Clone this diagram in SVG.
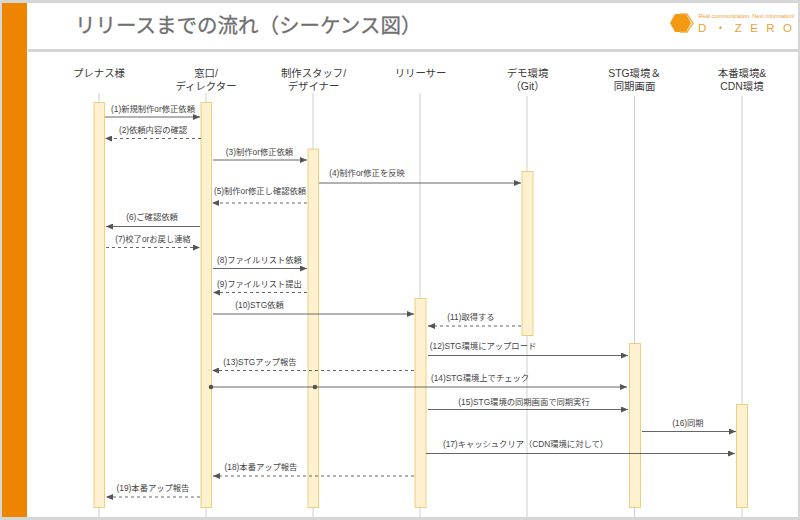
<svg xmlns="http://www.w3.org/2000/svg" width="800" height="520" viewBox="0 0 800 520">
<style>
text{font-family:"Liberation Sans","Noto Sans CJK JP",sans-serif;fill:#444}
.h{font-size:10.4px;text-anchor:middle;fill:#3a3a3a}
.m{font-size:8.3px;text-anchor:middle;fill:#444}
.life{stroke:#cfcfcf;stroke-width:1;fill:none}
.act{fill:#fdf1cf;stroke:#ecd080;stroke-width:1}
.s,.d{stroke:#666;stroke-width:1;fill:none}
.d{stroke-dasharray:3 3}
</style>
<defs>
<marker id="a" markerWidth="7" markerHeight="6" refX="7" refY="3" orient="auto" markerUnits="userSpaceOnUse"><path d="M0 0L7 3L0 6z" fill="#555"/></marker>
</defs>
<rect width="800" height="520" fill="#d6d6d6"/>
<rect x="2" y="3" width="796" height="514" fill="#fff"/>
<rect x="2" y="3" width="25" height="514" fill="#ee8500"/>
<rect x="28" y="49" width="770" height="3" fill="#d4d4d4"/>
<text x="75" y="33" font-size="20.5" stroke="#707070" stroke-width="0.3" style="fill:#707070">リリースまでの流れ（シーケンス図）</text>
<g id="logo">
<path d="M670 23l5-9h11l5 9-5 9h-11z" fill="#f39a12"/>
<path d="M680 14h7l6 9-6 9h-7" fill="none" stroke="#f3b04a" stroke-width="1.5"/>
<text x="698.500" y="18" font-size="5.600" style="fill:#f0a030">Real communication. Next information!</text>
<text x="698" y="32" font-size="11.500" textLength="94" style="fill:#f0a030">D・ZERO</text>
</g>
<g id="lifelines">
<path class="life" d="M99 93V517M206 93V517M313 93V517M420 93V517M527 96V517M634.500 96V517M742 96V517"/>
</g>
<g id="n1"><text class="h" x="99" y="77">プレナス様</text><rect class="act" x="94" y="102.500" width="10.500" height="405"/></g>
<g id="n2"><text class="h" x="206" y="77">窓口/</text><text class="h" x="206" y="89.500">ディレクター</text><rect class="act" x="201" y="102.500" width="10.500" height="405"/></g>
<g id="n3"><text class="h" x="313.500" y="77">制作スタッフ/</text><text class="h" x="313.500" y="89.500">デザイナー</text><rect class="act" x="308" y="149" width="10.500" height="358.500"/></g>
<g id="n4"><text class="h" x="420.500" y="77">リリーサー</text><rect class="act" x="415" y="298.500" width="11" height="209"/></g>
<g id="n5"><text class="h" x="527.500" y="77">デモ環境</text><text class="h" x="527.500" y="89.500">（Git）</text><rect class="act" x="522" y="171.500" width="11" height="164"/></g>
<g id="n6"><text class="h" x="634.500" y="77">STG環境＆</text><text class="h" x="634.500" y="89.500">同期画面</text><rect class="act" x="629.500" y="343.500" width="11" height="164"/></g>
<g id="n7"><text class="h" x="742" y="77">本番環境&amp;</text><text class="h" x="742" y="89.500">CDN環境</text><rect class="act" x="736.500" y="404.500" width="11" height="103"/></g>
<g id="connectors">
<path class="s" marker-end="url(#a)" d="M105 117H200"/>
<path class="d" marker-end="url(#a)" d="M201 138.500H105"/>
<path class="s" marker-end="url(#a)" d="M213 160H307"/>
<path class="s" marker-end="url(#a)" d="M319 183H521"/>
<path class="d" marker-end="url(#a)" d="M307 203H212"/>
<path class="s" marker-end="url(#a)" d="M200 226.500H106"/>
<path class="d" marker-end="url(#a)" d="M106 247.500H200"/>
<path class="s" marker-end="url(#a)" d="M213 268.500H307"/>
<path class="d" marker-end="url(#a)" d="M307 292.500H213"/>
<path class="s" marker-end="url(#a)" d="M213 314H414"/>
<path class="d" marker-end="url(#a)" d="M521 326H428"/>
<path class="s" marker-end="url(#a)" d="M428 355.500H628"/>
<path class="d" marker-end="url(#a)" d="M414 370.500H212"/>
<path class="s" stroke-width="1.500" marker-end="url(#a)" d="M211 387H627"/>
<path class="s" marker-end="url(#a)" d="M428 409.500H628"/>
<path class="s" marker-end="url(#a)" d="M642 431.500H736"/>
<path class="s" marker-end="url(#a)" d="M426 453.500H735"/>
<path class="d" marker-end="url(#a)" d="M414 476H213"/>
<path class="d" marker-end="url(#a)" d="M200 497H106"/>
<circle cx="211" cy="387" r="2.300" fill="#555"/>
<circle cx="315" cy="387" r="2.300" fill="#555"/>
</g>
<g id="labels">
<text class="m" x="153" y="112">(1)新規制作or修正依頼</text>
<text class="m" x="153" y="133">(2)依頼内容の確認</text>
<text class="m" x="259.500" y="155">(3)制作or修正依頼</text>
<text class="m" x="367" y="176">(4)制作or修正を反映</text>
<text class="m" x="260" y="194">(5)制作or修正し確認依頼</text>
<text class="m" x="152" y="220">(6)ご確認依頼</text>
<text class="m" x="153" y="242">(7)校了orお戻し連絡</text>
<text class="m" x="259.500" y="263">(8)ファイルリスト依頼</text>
<text class="m" x="259.500" y="287">(9)ファイルリスト提出</text>
<text class="m" x="259.500" y="308">(10)STG依頼</text>
<text class="m" x="471" y="320">(11)取得する</text>
<text class="m" x="483" y="349">(12)STG環境にアップロード</text>
<text class="m" x="260" y="365">(13)STGアップ報告</text>
<text class="m" x="480" y="381">(14)STG環境上でチェック</text>
<text class="m" x="524" y="405">(15)STG環境の同期画面で同期実行</text>
<text class="m" x="688" y="426">(16)同期</text>
<text class="m" x="525.500" y="447">(17)キャッシュクリア（CDN環境に対して）</text>
<text class="m" x="261" y="470">(18)本番アップ報告</text>
<text class="m" x="153" y="491">(19)本番アップ報告</text>
</g>
</svg>
